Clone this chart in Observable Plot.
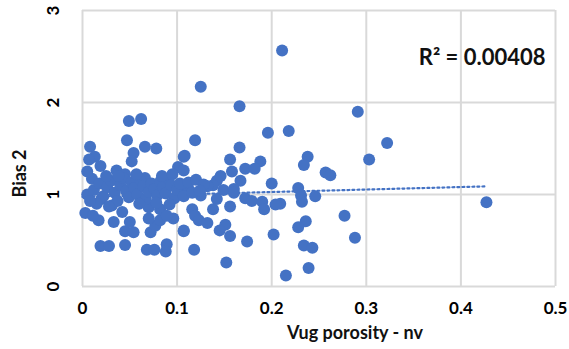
<!DOCTYPE html>
<html>
<head>
<meta charset="utf-8">
<script src="https://cdn.jsdelivr.net/npm/d3@7"></script>
<script src="https://cdn.jsdelivr.net/npm/@observablehq/plot@0.6"></script>
<style>
  body { margin: 0; background: #fff; }
  #chart svg { display: block; }
</style>
</head>
<body>
<div id="chart"></div>
<script>
// Vug porosity (non-vuggy normalised) against Bias 2, one entry per sample
const vugPorosity = [
  0.211, 0.125, 0.166, 0.291, 0.049, 0.062, 0.218, 0.196, 0.119, 0.047,
  0.322, 0.008, 0.066, 0.078, 0.166, 0.054, 0.108, 0.013, 0.107, 0.238,
  0.007, 0.303, 0.156, 0.188, 0.052, 0.234, 0.019, 0.101, 0.172, 0.182,
  0.036, 0.107, 0.158, 0.257, 0.262, 0.045, 0.146, 0.066, 0.010, 0.142,
  0.167, 0.200, 0.138, 0.228, 0.112, 0.132, 0.149, 0.160, 0.104, 0.160,
  0.231, 0.246, 0.125, 0.172, 0.142, 0.179, 0.232, 0.190, 0.427, 0.209,
  0.204, 0.156, 0.138, 0.192, 0.116, 0.119, 0.277, 0.123, 0.236, 0.132,
  0.151, 0.228, 0.145, 0.107, 0.202, 0.156, 0.288, 0.174, 0.234, 0.243,
  0.118, 0.152, 0.239, 0.215,
  0.019, 0.028, 0.045, 0.068, 0.076, 0.089, 0.088, 0.003, 0.017, 0.011,
  0.033, 0.045, 0.054, 0.050, 0.072, 0.077, 0.082, 0.070, 0.096, 0.107,
  0.070, 0.082, 0.089, 0.031, 0.020, 0.042,
  0.005, 0.012, 0.018, 0.022, 0.026, 0.030, 0.034, 0.037, 0.040, 0.043,
  0.046, 0.049, 0.052, 0.055, 0.058, 0.061, 0.064, 0.067, 0.070, 0.073,
  0.076, 0.079, 0.082, 0.085, 0.088, 0.091, 0.094, 0.097, 0.100, 0.103,
  0.107, 0.112, 0.116, 0.120, 0.015, 0.028, 0.060, 0.078, 0.092, 0.008,
  0.038, 0.057, 0.084, 0.095, 0.025, 0.128, 0.124, 0.005
];
const bias2 = [
  2.565, 2.17, 1.96, 1.90, 1.80, 1.82, 1.69, 1.67, 1.59, 1.59,
  1.56, 1.52, 1.52, 1.50, 1.51, 1.45, 1.42, 1.41, 1.41, 1.41,
  1.38, 1.38, 1.38, 1.36, 1.36, 1.32, 1.31, 1.30, 1.28, 1.28,
  1.26, 1.26, 1.25, 1.24, 1.21, 1.22, 1.20, 1.18, 1.17, 1.15,
  1.15, 1.12, 1.10, 1.07, 1.06, 1.09, 1.05, 1.06, 1.02, 1.02,
  0.99, 0.98, 0.99, 0.96, 0.95, 0.93, 0.92, 0.92, 0.917, 0.90,
  0.89, 0.87, 0.84, 0.84, 0.84, 0.77, 0.77, 0.72, 0.71, 0.69,
  0.67, 0.645, 0.61, 0.60, 0.565, 0.55, 0.53, 0.49, 0.445, 0.42,
  0.40, 0.26, 0.20, 0.12,
  0.44, 0.44, 0.45, 0.40, 0.40, 0.46, 0.38, 0.80, 0.72, 0.77,
  0.70, 0.60, 0.59, 0.70, 0.59, 0.66, 0.72, 0.74, 0.74, 0.61,
  0.86, 0.84, 0.77, 0.88, 0.95, 0.81,
  1.00, 1.05, 1.12, 0.98, 1.08, 1.15, 1.02, 0.93, 1.10, 1.18,
  1.04, 0.97, 1.13, 1.07, 1.00, 1.16, 1.09, 0.95, 1.03, 1.12,
  1.06, 0.99, 1.14, 1.08, 1.01, 1.17, 1.10, 0.96, 1.05, 1.12,
  0.98, 1.13, 1.02, 1.16, 0.90, 0.87, 0.90, 0.91, 0.89, 0.93,
  1.20, 1.22, 1.20, 1.22, 1.20, 1.11, 1.04, 1.25
];

// Axis ticks and titles
const xTicks = [0, 0.1, 0.2, 0.3, 0.4, 0.5];
const yTicks = [0, 1, 2, 3];
const xTitle = ["Vug porosity - nv"];
const yTitle = ["Bias 2"];

// Linear trendline as reported for the series
const trendIntercept = 0.973;
const trendSlope = 0.27;
const rSquaredLabel = ["R² = 0.00408"];

const samples = vugPorosity.map((x, i) => ({x, y: bias2[i]}));
const xMax = d3.max(vugPorosity);
const trend = [0, xMax].map(x => ({x, y: trendIntercept + trendSlope * x}));

const blue = "#4472C4";
const grid = "#d9d9d9";
const font = "Lato, 'Open Sans', sans-serif";

const chart = Plot.plot({
  width: 569,
  height: 349,
  marginLeft: 82,
  marginRight: 14,
  marginTop: 10,
  marginBottom: 63,
  style: {fontFamily: font, background: "#fff", color: "#000"},
  x: {domain: [0, 0.5]},
  y: {domain: [0, 3]},
  marks: [
    Plot.gridX(xTicks, {stroke: grid, strokeOpacity: 1, strokeWidth: 2}),
    Plot.gridY(yTicks, {stroke: grid, strokeOpacity: 1, strokeWidth: 2}),
    Plot.axisX({
      ticks: xTicks, tickSize: 0, tickPadding: 15, label: null,
      tickFormat: d => String(d), fontSize: 17, fontWeight: "bold"
    }),
    Plot.axisY({
      ticks: yTicks, tickSize: 0, tickPadding: 29, label: null,
      tickFormat: d => String(d), tickRotate: -90,
      textAnchor: "middle", lineAnchor: "middle",
      fontSize: 17, fontWeight: "bold"
    }),
    // trendline sits beneath the markers
    Plot.line(trend, {
      x: "x", y: "y", stroke: blue, strokeWidth: 2.2,
      strokeDasharray: "2 3"
    }),
    Plot.dot(samples, {x: "x", y: "y", r: 6, fill: blue}),
    Plot.text(rSquaredLabel, {
      frameAnchor: "top-right", dx: -10, dy: 47,
      textAnchor: "end", lineAnchor: "middle",
      fontSize: 22, fontWeight: "bold", fill: "#111"
    }),
    Plot.text(xTitle, {
      frameAnchor: "bottom", dx: 36, dy: 47, lineAnchor: "middle",
      fontSize: 18, fontWeight: "bold", fill: "#111"
    }),
    Plot.text(yTitle, {
      frameAnchor: "left", dx: -62, dy: 25, rotate: -90,
      textAnchor: "middle", lineAnchor: "middle",
      fontSize: 18, fontWeight: "bold", fill: "#111"
    })
  ]
});

document.getElementById("chart").append(chart);
</script>
</body>
</html>
